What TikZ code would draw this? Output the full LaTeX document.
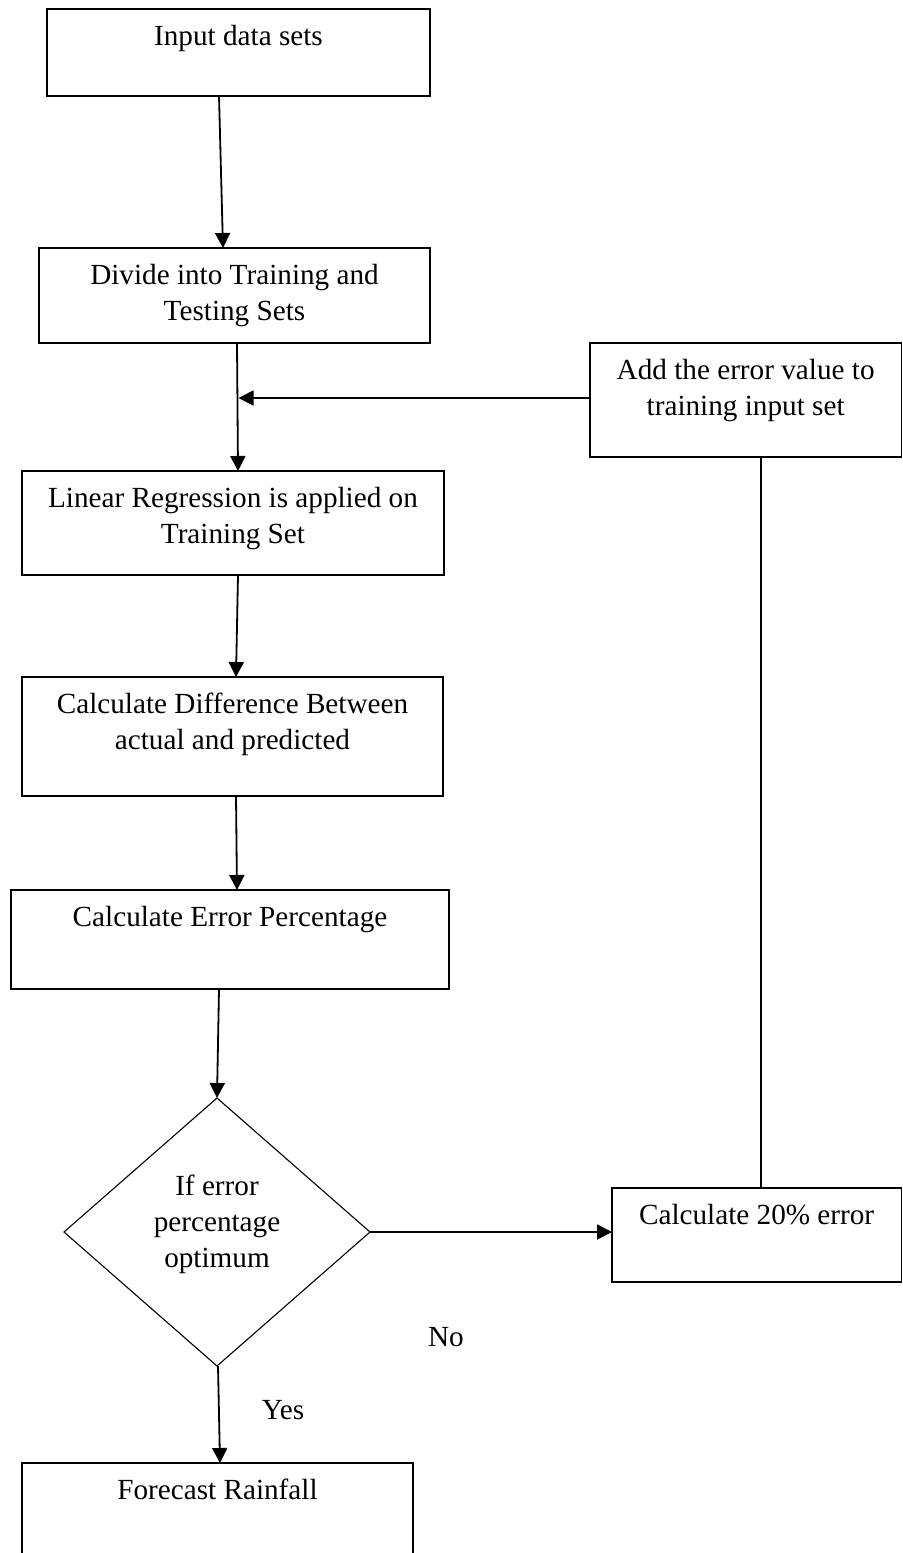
\documentclass[tikz,border=0pt]{standalone}
\usepackage{fontspec}
\setmainfont{Liberation Serif}
\usetikzlibrary{shapes.geometric,arrows.meta}

% texte en haut de chaque boite (largeur, hauteur, texte)
\newcommand{\boxtext}[3]{\parbox[t][#2][t]{#1}{\centering\vspace*{5.5pt}\strut #3\strut}}

\tikzset{
    flowbox/.style={draw, line width=0.55pt, inner sep=0pt, outer sep=0pt, anchor=north west,
        font=\fontsize{14.6}{18}\selectfont},
    decision/.style={draw, diamond, line width=0.55pt, inner sep=0pt, outer sep=0pt,
        minimum width=153pt, minimum height=134pt, font=\fontsize{14.6}{18}\selectfont},
    lbl/.style={font=\fontsize{14.6}{18}\selectfont, inner sep=0pt},
    flow/.style={-{Triangle[length=7.5pt,width=7.5pt]}, line width=0.9pt},
    thinline/.style={line width=0.65pt}
}

\begin{document}
\begin{tikzpicture}[x=0.5pt, y=-0.5pt]
    % Cadre de la page (le bas de la derniere boite est coupe)
    \clip (0,0) rectangle (902,1553);

    % Colonne principale
    \node[flowbox] (input) at (47,9) {\boxtext{191.5pt}{43.5pt}{Input data sets}};
    \node[flowbox] (divide) at (39,248) {\boxtext{195.5pt}{47.5pt}{Divide into Training and\\Testing Sets}};
    \node[flowbox] (linReg) at (22,471) {\boxtext{211pt}{52pt}{Linear Regression is applied on\\Training Set}};
    \node[flowbox] (diff) at (22,677) {\boxtext{210.5pt}{59.5pt}{Calculate Difference Between\\actual and predicted}};
    \node[flowbox] (errPct) at (11,890) {\boxtext{219pt}{49.5pt}{Calculate Error Percentage}};
    \node[decision] (dec) at (217,1232) {\parbox{70pt}{\centering If error\\percentage\\optimum\par\vspace*{8pt}}};
    \node[flowbox] (forecast) at (22,1463) {\boxtext{195.5pt}{75pt}{Forecast Rainfall}};

    % Colonne de droite (boucle)
    \node[flowbox] (addErr) at (590,343) {\boxtext{155.65pt}{57pt}{Add the error value to\\training input set}};
    \node[flowbox] (calc20) at (612,1188) {\boxtext{144.65pt}{47pt}{Calculate 20\% error}};

    % Etiquettes
    \node[lbl] (no) at (446,1337) {No};
    \node[lbl] (yes) at (283,1410) {Yes};

    % Fleches
    \coordinate (join) at (238.5,398);
    \draw[flow] ([xshift=-9.75pt]input.south) -- ([xshift=-5.75pt]divide.north);
    \draw[flow] ([xshift=1.25pt]divide.south) -- ([xshift=2.5pt]linReg.north);
    \draw[flow] (addErr.west |- join) -- (join);
    \draw[flow] ([xshift=2.5pt]linReg.south) -- ([xshift=1.75pt]diff.north);
    \draw[flow] ([xshift=1.75pt]diff.south) -- ([xshift=3.5pt]errPct.north);
    \draw[flow] ([xshift=-5.5pt]errPct.south) -- (dec.north);
    \draw[flow] (dec.east) -- (dec.east -| calc20.west);
    \draw[thinline] ([xshift=2.2pt]calc20.north) -- ([xshift=7.7pt]addErr.south);
    \draw[flow] ([xshift=0.5pt]dec.south) -- ([xshift=1.25pt]forecast.north);
\end{tikzpicture}
\end{document}
